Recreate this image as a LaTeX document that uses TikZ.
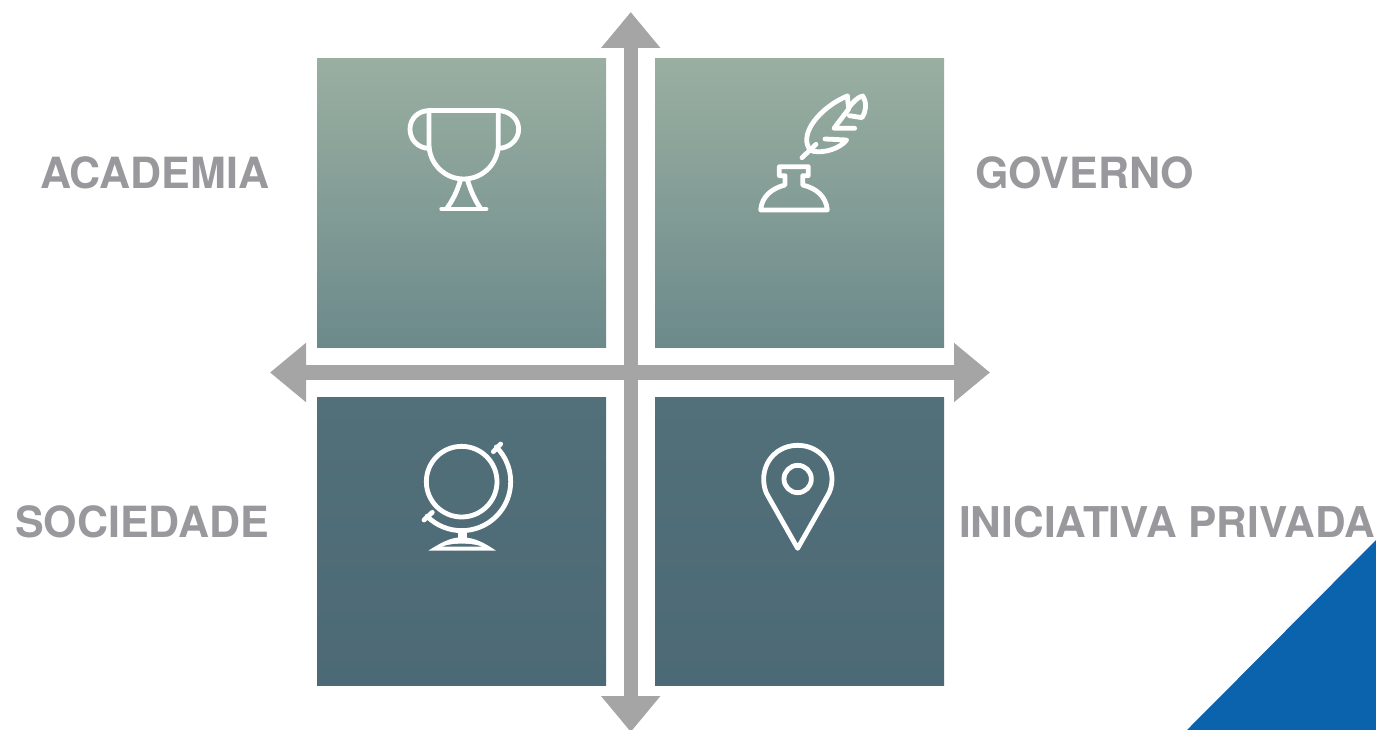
\documentclass[tikz,border=0pt]{standalone}
\usepackage{fontspec}
\setmainfont{TeX Gyre Heros}
\usetikzlibrary{arrows.meta}
\definecolor{axisgray}{HTML}{A5A5A5}
\definecolor{labelgray}{HTML}{98989D}
\definecolor{topA}{HTML}{9AAFA1}
\definecolor{topB}{HTML}{6C8A8B}
\definecolor{botA}{HTML}{527079}
\definecolor{botB}{HTML}{4C6976}
\definecolor{cornerblue}{HTML}{0B63AE}
\tikzset{
  quad/.style={inner sep=0pt,outer sep=0pt,minimum width=289pt,minimum height=289pt,anchor=north west},
  upperquad/.style={quad,top color=topA,bottom color=topB,draw=none},
  lowerquad/.style={quad,minimum height=288.5pt,top color=botA,bottom color=botB,draw=none},
  axisline/.style={draw=axisgray,fill=axisgray,line width=14.5pt,{Triangle[length=36pt,width=57pt]}-{Triangle[length=36pt,width=57pt]}},
  sidelabel/.style={font=\fontsize{43}{43}\selectfont\bfseries,text=labelgray,inner sep=0pt},
  icon/.style={draw=white,line width=4.8pt,line cap=round,line join=round},
}
\begin{document}
\begin{tikzpicture}[x=1pt,y=-1pt]
\useasboundingbox (0,0) rectangle (1376,730);
\fill[cornerblue] (1376,540) -- (1376,730) -- (1187,730) -- cycle;
% quadrants
\node[upperquad] (q1) at (317,58.5) {};
\node[upperquad] (q2) at (655,58.5) {};
\node[lowerquad] (q3) at (317,397) {};
\node[lowerquad] (q4) at (655,397) {};
% axes
\coordinate (axT) at (630.75,12);
\coordinate (axB) at (630.75,732);
\coordinate (axL) at (270,372.5);
\coordinate (axR) at (990,372.5);
\draw[axisline] (axT) -- (axB);
\draw[axisline] (axL) -- (axR);
% labels
\node[sidelabel,anchor=base east] (l1) at (269.5,188.7) {ACADEMIA};
\node[sidelabel,anchor=base west] (l2) at (975,188.7) {GOVERNO};
\node[sidelabel,anchor=base east] (l3) at (269.5,537.5) {SOCIEDADE};
\node[sidelabel,anchor=base west,font=\fontsize{42.4}{43}\selectfont\bfseries] (l4) at (959,537.5) {INICIATIVA PRIVADA};
% trophy
\begin{scope}[shift={(390,90)},scale=1/3]
\draw[icon] (117,62) -- (325,62);
\draw[icon] (117,62) -- (117,163) arc[start angle=180,end angle=0,radius=104] -- (325,62);
\draw[icon] (117,62) .. controls (85,62) and (60,85) .. (60,118) .. controls (60,150) and (85,175) .. (117,175);
\draw[icon] (325,62) .. controls (357,62) and (386,85) .. (386,118) .. controls (386,150) and (357,175) .. (325,175);
\draw[icon] (212,268) .. controls (200,310) and (185,335) .. (170,356);
\draw[icon] (232,268) .. controls (244,310) and (258,335) .. (272,356);
\draw[icon] (155,357) -- (288,357);
\end{scope}
% inkwell and quill
\begin{scope}[shift={(740,85)},scale=1/3]
\draw[icon,line cap=butt] (62,375) -- (262,375) .. controls (258,335) and (230,310) .. (188,300) -- (188,272) -- (205,272) -- (205,245) -- (118,245) -- (118,272) -- (135,272) -- (135,300) .. controls (95,310) and (65,335) .. (62,375) -- cycle;
\draw[icon] (322,33) .. controls (255,60) and (185,130) .. (203,182) .. controls (207,192) and (212,197) .. (220,199) .. controls (255,205) and (300,190) .. (320,165) -- (255,162);
\draw[icon] (322,33) -- (326,72) -- (282,130) -- (344,130);
\draw[icon] (326,68) .. controls (340,50) and (355,35) .. (368,33) .. controls (382,55) and (378,80) .. (366,98) -- (328,92);
\draw[icon] (186,218) -- (228,178);
\end{scope}
% globe
\begin{scope}[shift={(400,430)},scale=1/3]
\draw[icon] (185,155) circle[radius=106];
\draw[icon] (289,51) arc[start angle=-45,end angle=135,radius=147];
\draw[icon] (280,65) -- (302,42);
\draw[icon] (72,270) -- (97,247);
\fill[white] (173,300) rectangle (200,330);
\fill[white] (85,362) .. controls (120,340) and (150,322) .. (185,322) .. controls (225,322) and (255,340) .. (288,362) -- cycle;
\fill[botA] (128,350) .. controls (150,338) and (220,338) .. (245,350) -- cycle;
\end{scope}
% pin
\begin{scope}[shift={(740,430)},scale=1/3]
\draw[icon] (173,355) -- ++(-88,-155) .. controls (75,185) and (71,165) .. (71,148) .. controls (71,90) and (115,46) .. (173,46) .. controls (231,46) and (276,90) .. (276,148) .. controls (276,165) and (271,185) .. (261,200) -- cycle;
\draw[icon] (173,147) circle[radius=41];
\end{scope}
\end{tikzpicture}
\end{document}
